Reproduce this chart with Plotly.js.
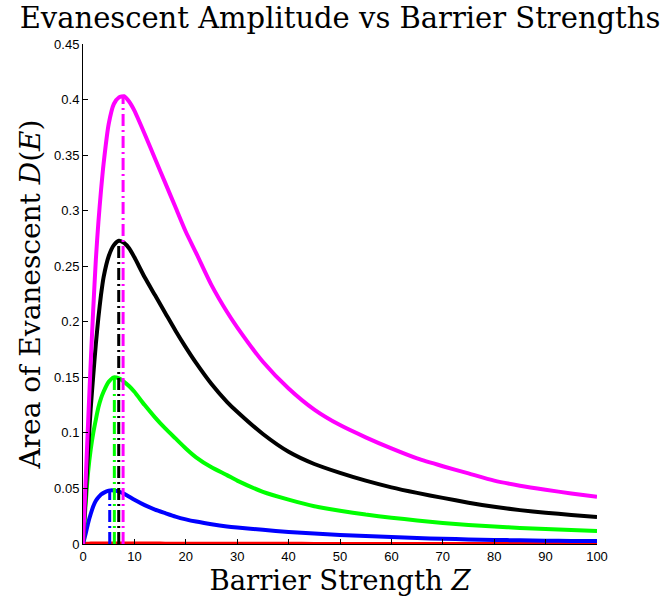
<!DOCTYPE html>
<html>
<head>
<meta charset="utf-8">
<script src="https://cdn.plot.ly/plotly-3.0.1.min.js"></script>
<style>html,body{margin:0;padding:0;background:#fff;}#chart{width:668px;height:602px;}</style>
</head>
<body>
<div id="chart"></div>
<script>
// Barrier strength Z (x values)
const Z = [0, 0.5, 1, 1.5, 2, 2.5, 3, 3.5, 4, 5, 6, 7, 8, 9, 10, 12, 14, 16, 18, 20, 22, 25, 28, 30, 35, 40, 45, 50, 55, 60, 65, 70, 75, 80, 85, 90, 95, 100];
// Area of evanescent D(E) for each curve
const magenta = [0, 0.055, 0.110, 0.163, 0.212, 0.256, 0.290, 0.318, 0.342, 0.378, 0.396, 0.402, 0.403, 0.398, 0.390, 0.369, 0.347, 0.325, 0.303, 0.281, 0.262, 0.233, 0.209, 0.195, 0.164, 0.140, 0.121, 0.107, 0.096, 0.086, 0.077, 0.070, 0.0635, 0.057, 0.0525, 0.0488, 0.0455, 0.0425];
const black   = [0, 0.042, 0.085, 0.122, 0.152, 0.180, 0.204, 0.224, 0.240, 0.259, 0.269, 0.273, 0.271, 0.266, 0.258, 0.240, 0.224, 0.208, 0.192, 0.177, 0.163, 0.144, 0.128, 0.119, 0.099, 0.083, 0.072, 0.064, 0.057, 0.051, 0.046, 0.0415, 0.0372, 0.0335, 0.0305, 0.0282, 0.0262, 0.0243];
const green   = [0, 0.035, 0.065, 0.085, 0.100, 0.112, 0.123, 0.131, 0.137, 0.146, 0.150, 0.149, 0.146, 0.142, 0.137, 0.125, 0.114, 0.104, 0.095, 0.086, 0.078, 0.069, 0.062, 0.057, 0.047, 0.040, 0.034, 0.030, 0.0265, 0.0237, 0.0212, 0.019, 0.0172, 0.0158, 0.0145, 0.0134, 0.0125, 0.0117];
const blue    = [0, 0.009, 0.019, 0.027, 0.034, 0.039, 0.042, 0.0445, 0.046, 0.048, 0.0482, 0.0472, 0.0452, 0.0425, 0.0398, 0.035, 0.031, 0.0278, 0.0247, 0.0222, 0.0202, 0.0178, 0.0158, 0.0148, 0.0128, 0.0108, 0.0094, 0.0082, 0.0071, 0.0062, 0.0054, 0.0047, 0.0041, 0.0037, 0.0033, 0.0030, 0.0028, 0.0027];
const red     = [0, 0.0002, 0.0003, 0.0004, 0.0004, 0.0005, 0.0005, 0.0005, 0.0005, 0.0005, 0.0005, 0.0005, 0.0005, 0.0005, 0.0004, 0.0004, 0.0004, 0.0003, 0.0003, 0.0003, 0.0003, 0.0002, 0.0002, 0.0002, 0.0002, 0.0002, 0.0001, 0.0001, 0.0001, 0.0001, 0.0001, 0.0001, 0.0001, 0.0001, 0.0001, 0.0001, 0.0001, 0.0001];
// Peak markers (vertical dash-dot lines)
const peakZ = [5.2, 6.1, 6.95, 7.8];
const peakD = [0.048, 0.150, 0.273, 0.403];
const peakColors = ['#0000ff', '#00ff00', '#000000', '#ff00ff'];

const series = [
  {y: red, color: '#ff0000'},
  {y: blue, color: '#0000ff'},
  {y: green, color: '#00ff00'},
  {y: black, color: '#000000'},
  {y: magenta, color: '#ff00ff'}
];

const traces = [];
series.forEach(s => {
  traces.push({x: Z, y: s.y, mode: 'lines', line: {color: s.color, width: 4, shape: 'spline', smoothing: 0.6}, hoverinfo: 'skip'});
});
peakZ.forEach((z, i) => {
  traces.push({x: [z, z], y: [0, peakD[i]], mode: 'lines', line: {color: peakColors[i], width: 3, dash: '12px,4px,2px,4px'}, hoverinfo: 'skip'});
});

const serif = 'DejaVu Serif, serif';
const tickFont = {family: 'Liberation Sans, Arial, sans-serif', size: 13, color: '#000'};
const layout = {
  width: 668, height: 602,
  margin: {l: 83, r: 71, t: 44, b: 58},
  paper_bgcolor: '#fff', plot_bgcolor: '#fff',
  showlegend: false,
  title: {text: 'Evanescent Amplitude vs Barrier Strengths', font: {family: serif, size: 29, color: '#000'}, x: 0.509, xanchor: 'center', y: 0.988, yanchor: 'top'},
  xaxis: {
    range: [0, 100], tickvals: [0,10,20,30,40,50,60,70,80,90,100], ticktext: ['0','10','20','30','40','50','60','70','80','90','100'],
    ticks: 'inside', ticklen: 5, tickcolor: '#000', showline: true, linecolor: '#000', linewidth: 1,
    showgrid: false, zeroline: false, tickfont: tickFont,
    title: {text: 'Barrier Strength <i>Z</i>', font: {family: serif, size: 27.5, color: '#000'}, standoff: 3}
  },
  yaxis: {
    range: [0, 0.45], tickvals: [0,0.05,0.1,0.15,0.2,0.25,0.3,0.35,0.4,0.45], ticktext: ['0','0.05','0.1','0.15','0.2','0.25','0.3','0.35','0.4','0.45'],
    ticks: 'inside', ticklen: 5, tickcolor: '#000', showline: true, linecolor: '#000', linewidth: 1,
    showgrid: false, zeroline: false, tickfont: tickFont,
    title: {text: 'Area of Evanescent <i>D</i>(<i>E</i>)', font: {family: serif, size: 28, color: '#000'}, standoff: 5}
  }
};
Plotly.newPlot('chart', traces, layout, {displayModeBar: false, staticPlot: true});
</script>
</body>
</html>
